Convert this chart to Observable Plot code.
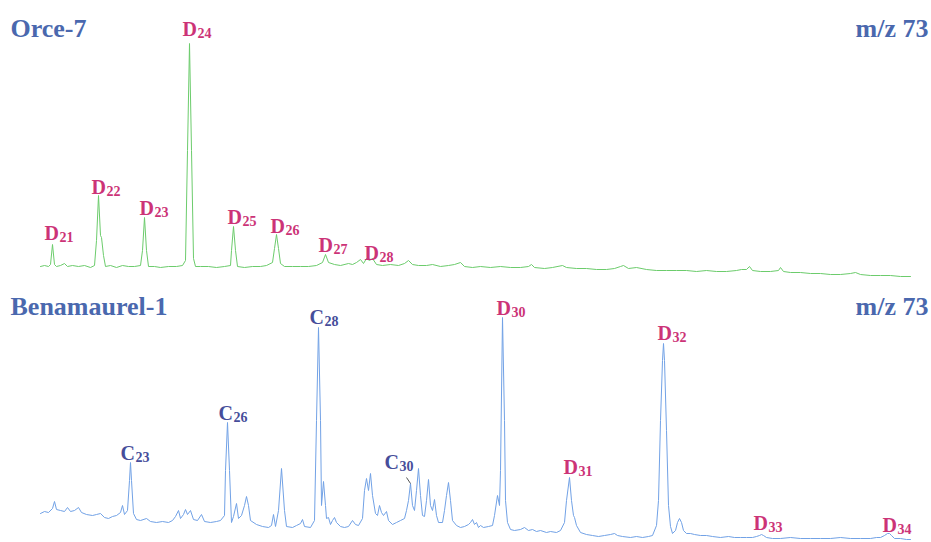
<!DOCTYPE html>
<html>
<head>
<meta charset="utf-8">
<script src="https://cdn.jsdelivr.net/npm/d3@7"></script>
<script src="https://cdn.jsdelivr.net/npm/@observablehq/plot@0.6"></script>
<style>
  html, body { margin: 0; padding: 0; background: #fff; }
  #chart { width: 931px; }
  #chart svg { display: block; }
</style>
</head>
<body>
<div id="chart"></div>
<script>
// ---- Orce-7 trace (retention position, abundance) ----
const orceTime = [40,44,48,50,52,54,56,60,64,67,72,78,84,90,94,96,98,100,101,103,105,110,116,122,128,134,140,142,144,146,148,154,160,168,176,182,185,187,189,191,193,195,200,208,216,224,230,231,233,235,237,244,252,260,266,272,274,276,278,280,284,292,300,308,316,322,325,328,334,340,348,352,356,360,363,366,369,372,376,382,390,398,404,408,412,418,426,432,440,448,454,460,464,472,480,490,500,510,520,528,531,534,544,552,562,566,576,586,596,606,614,620,623,628,636,646,656,666,676,686,696,706,716,726,736,741,746,749,752,760,770,778,780,783,790,800,810,820,830,840,850,855,860,870,880,890,900,910];
const orceSignal = [14,15,14,16,36,16,14,15,17,14,15,14,15,13,15,40,85,45,43,25,14,15,13,15,14,14,15,30,63,30,14,14,13,14,14,15,20,130,237,130,22,14,14,14,13,14,15,30,54,30,14,13,14,14,15,18,32,46,32,17,14,14,14,14,15,18,26,18,16,15,17,16,18,21,17,22,20,22,16,15,16,15,17,20,16,15,15,16,14,15,16,18,14,13,14,13,14,13,13,14,16,13,12,13,15,13,12,12,11,11,12,14,15,12,13,11,10,10,10,10,9,10,9,9,10,11,11,14,10,9,9,10,13,9,8,8,7,7,6,6,7,8,6,5,5,5,4,4];

// ---- Benamaurel-1 trace ----
const benaTime = [40,44,48,52,54,56,60,64,67,70,74,78,81,86,92,96,100,104,108,112,116,120,122,124,127,129,130,131,133,136,140,146,150,156,162,168,172,175,178,180,183,185,187,190,193,197,201,204,210,216,220,224,225,227,229,231,233,236,238,241,244,246,248,250,256,262,268,271,273,275,278,281,284,286,292,296,300,302,304,310,314,316,318,320,321,323,325,326,328,330,332,334,336,340,344,348,352,355,358,362,364,366,368,370,372,375,377,379,381,383,386,388,392,396,400,404,406,408,410,412,414,416,418,420,422,424,426,428,430,432,434,436,438,442,444,446,448,450,452,456,460,464,468,470,472,474,476,478,480,483,488,492,494,497,499,500,502,504,505,507,510,514,520,524,528,532,536,540,546,550,556,560,564,566,569,571,573,574,576,580,586,592,598,604,610,614,617,622,630,636,642,648,652,656,658,660,662,663,664,666,668,670,672,675,677,679,681,683,686,690,694,700,706,712,720,728,734,740,746,752,756,759,761,763,766,772,780,790,800,810,820,830,840,850,860,870,876,880,884,887,889,891,894,900,906,910];
const benaSignal = [29,31,30,34,41,33,32,31,35,31,32,35,30,28,27,28,29,25,24,26,27,30,37,28,32,62,80,62,29,23,22,24,21,20,21,20,22,26,32,24,28,33,28,32,23,22,28,21,20,21,22,27,72,120,72,20,26,39,24,27,37,46,37,22,18,16,15,17,28,16,32,74,32,16,15,17,19,23,16,15,22,122,215,122,37,61,37,24,25,18,22,25,20,16,15,16,22,18,17,24,52,64,52,69,47,29,27,37,30,27,31,22,18,20,22,24,32,42,59,37,32,52,74,47,27,26,42,63,37,32,43,27,20,20,32,47,60,42,22,17,15,16,18,20,23,18,20,15,17,15,16,17,27,47,37,72,225,122,42,20,13,12,13,15,12,13,11,12,10,11,10,12,20,42,65,42,27,25,17,10,8,7,6,7,8,9,7,6,5,6,5,6,7,17,42,122,182,199,182,112,37,16,9,12,20,24,20,12,9,9,8,7,7,6,5,6,5,5,5,5,6,7,8,7,5,4,4,5,4,4,4,4,5,4,4,4,5,5,7,9,9,7,4,4,3,3];

// ---- peak labels ----
const orceLabLetter = ["D","D","D","D","D","D","D","D"];
const orceLabSub    = ["21","22","23","24","25","26","27","28"];
const orceLabTime   = [44, 91, 139, 182, 227, 270, 318, 364];
const orceLabSignal = [47, 93, 72, 251, 63, 54, 35, 27];

const benaLabLetter = ["C","C","C","C","D","D","D","D","D"];
const benaLabSub    = ["23","26","28","30","30","31","32","33","34"];
const benaLabTime   = [120, 218, 309, 384, 496, 563, 657, 753, 882];
const benaLabSignal = [89, 129, 225, 80, 234, 75, 209, 19, 17];

// C30 leader line
const leaderTime = [406, 410];
const leaderSignal = [65, 59];

const titles = ["Orce-7", "Benamaurel-1"];
const ionLabel = "m/z 73";

const SERIF = "'Liberation Serif', 'Times New Roman', serif";
const TITLE_COLOR = "#4a68ae";
const D_COLOR = "#cc3377";
const C_COLOR = "#464d9a";

function zipTrace(t, s) { return t.map((v, i) => ({t: v, s: s[i]})); }
function zipLabels(l, sub, t, s) {
  return l.map((v, i) => ({letter: v, sub: sub[i], t: t[i], s: s[i], color: v === "D" ? D_COLOR : C_COLOR}));
}

function panel({trace, labels, height, yMax, stroke, title, titleDy, extra = []}) {
  return Plot.plot({
    width: 931,
    height,
    margin: 0,
    x: {domain: [0, 931], axis: null},
    y: {domain: [0, yMax], axis: null},
    style: {background: "#fff"},
    marks: [
      Plot.line(trace, {x: "t", y: "s", stroke, strokeWidth: 1, curve: "linear"}),
      ...extra,
      Plot.text(labels, {x: "t", y: "s", text: "letter", fill: "color", textAnchor: "start", lineAnchor: "middle",
        fontFamily: SERIF, fontWeight: "bold", fontSize: 20}),
      Plot.text(labels, {x: "t", y: "s", text: "sub", fill: "color", textAnchor: "start", lineAnchor: "middle",
        dx: 15, dy: 4, fontFamily: SERIF, fontWeight: "bold", fontSize: 14}),
      Plot.text([title], {frameAnchor: "top-left", text: d => d, dx: 10, dy: titleDy, lineAnchor: "middle",
        textAnchor: "start", fill: TITLE_COLOR, fontFamily: SERIF, fontWeight: "bold", fontSize: 26}),
      Plot.text([ionLabel], {frameAnchor: "top-right", text: d => d, dx: -3, dy: titleDy, lineAnchor: "middle",
        textAnchor: "end", fill: TITLE_COLOR, fontFamily: SERIF, fontWeight: "bold", fontSize: 26})
    ]
  });
}

const chart = document.getElementById("chart");
chart.append(panel({
  trace: zipTrace(orceTime, orceSignal),
  labels: zipLabels(orceLabLetter, orceLabSub, orceLabTime, orceLabSignal),
  height: 280, yMax: 280, stroke: "#6ccc6c", title: titles[0], titleDy: 28
}));
chart.append(panel({
  trace: zipTrace(benaTime, benaSignal),
  labels: zipLabels(benaLabLetter, benaLabSub, benaLabTime, benaLabSignal),
  height: 262, yMax: 262, stroke: "#72a2e6", title: titles[1], titleDy: 26,
  extra: [Plot.link([0], {x1: () => leaderTime[0], y1: () => leaderSignal[0], x2: () => leaderTime[1], y2: () => leaderSignal[1],
    stroke: "#555", strokeWidth: 1})]
}));
</script>
</body>
</html>
